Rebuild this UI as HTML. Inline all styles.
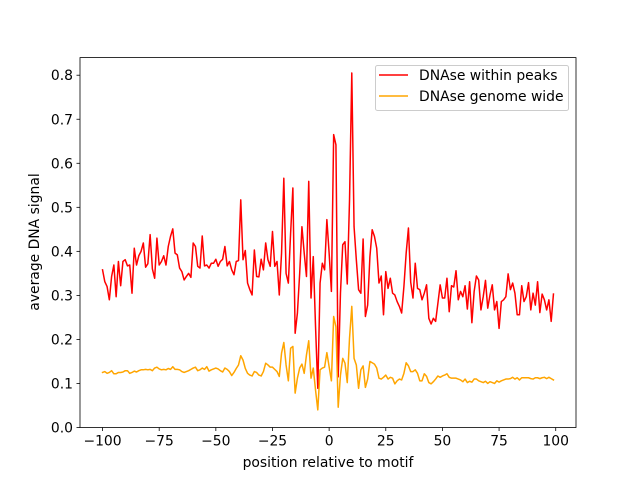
<!DOCTYPE html>
<html><head><meta charset="utf-8"><style>
html,body{margin:0;padding:0;background:#fff;}
svg{display:block;font-family:"DejaVu Sans","Liberation Sans",sans-serif;}
</style></head><body>
<svg id="chart" width="640" height="480" viewBox="0 0 640 480" xmlns="http://www.w3.org/2000/svg">
<rect x="0" y="0" width="640" height="480" fill="#fff"/>
<g id="series"></g>
<g id="axes"></g>
<g>
<rect x="375.5" y="65.5" width="193" height="45" rx="2" fill="#fff" fill-opacity="0.8" stroke="#ccc"/>
<line x1="379" y1="75" x2="408" y2="75" stroke="#ff0000" stroke-width="1.5"/>
<text x="419" y="80" font-size="13.9">DNAse within peaks</text>
<line x1="379" y1="96" x2="408" y2="96" stroke="#ffa500" stroke-width="1.5"/>
<text x="419" y="101" font-size="13.9">DNAse genome wide</text>
</g>
<text x="328" y="467" font-size="13.9" text-anchor="middle">position relative to motif</text>
<text x="0" y="0" font-size="13.9" text-anchor="middle" transform="translate(39,242) rotate(-90)">average DNA signal</text>
</svg>
<script>
const xStart = -100;
const peaks = [
.358,.331,.320,.290,.343,.369,.297,.377,.322,.377,
.381,.367,.369,.305,.407,.369,.390,.400,.419,.364,
.372,.438,.360,.339,.430,.369,.377,.390,.369,.411,
.434,.451,.396,.392,.362,.354,.335,.343,.350,.341,
.419,.411,.366,.362,.435,.367,.369,.362,.373,.373,
.382,.366,.377,.382,.411,.367,.377,.358,.347,.377,
.379,.517,.381,.402,.328,.313,
.301,.403,.343,.342,.382,.358,.419,.381,.366,.445,
.366,.377,.301,.396,.566,.350,.328,.441,.544,.214,
.260,.350,.456,.396,.343,.559,.294,.388,.229,.089,
.328,.373,.358,.472,.396,.309,.665,.642,.115,.305,
.415,.422,.326,.517,.805,.456,.381,.313,.305,.428,
.252,.278,.388,.449,.434,.407,.328,.344,.256,.354,
.316,.339,.305,.301,.286,.275,.260,.320,.396,.453,.330,
.294,.373,.316,.313,.290,.305,.324,.248,.235,.248,
.241,.282,.324,.294,.294,.339,.263,.322,.319,.356,
.290,.309,.297,.322,.269,.331,.238,.309,.344,.335,
.267,.297,.334,.271,.301,.324,.267,.286,.225,.286,
.290,.297,.349,.313,.328,.305,.256,.256,.322,.286,
.297,.329,.267,.305,.278,.331,.261,.303,.290,.267,
.290,.241,.303];
const genome = [
.125,.127,.123,.125,.129,.122,.122,.125,.125,.126,
.129,.129,.123,.125,.128,.126,.129,.131,.131,.132,
.131,.132,.129,.135,.137,.133,.131,.132,.131,.134,
.132,.138,.132,.132,.131,.127,.125,.127,.129,.132,
.135,.137,.129,.131,.135,.132,.138,.128,.131,.133,
.135,.133,.129,.126,.135,.132,.127,.118,.125,.134,
.142,.163,.153,.134,.123,.119,
.117,.127,.125,.119,.117,.127,.146,.142,.137,.137,
.132,.127,.116,.169,.193,.142,.106,.180,.184,.078,
.112,.135,.144,.123,.165,.197,.112,.135,.085,.040,
.131,.135,.137,.170,.138,.106,.252,.229,.046,.119,
.157,.146,.102,.203,.275,.157,.142,.089,.131,.140,
.091,.110,.150,.147,.144,.135,.112,.110,.114,.119,
.110,.114,.112,.099,.106,.110,.108,.123,.147,.140,.127,
.127,.131,.123,.106,.106,.122,.116,.102,.099,.104,
.110,.117,.114,.117,.119,.122,.114,.112,.112,.112,
.110,.108,.104,.110,.102,.105,.103,.110,.110,.106,
.104,.102,.105,.100,.104,.102,.100,.106,.103,.106,
.108,.110,.110,.111,.114,.110,.113,.108,.113,.113,
.113,.113,.111,.110,.113,.113,.111,.113,.114,.111,
.114,.111,.108];
const xTicks = [-100,-75,-50,-25,0,25,50,75,100];
const yTicks = [0.0,0.1,0.2,0.3,0.4,0.5,0.6,0.7,0.8];
const yTickLabels = ["0.0","0.1","0.2","0.3","0.4","0.5","0.6","0.7","0.8"];

const L=80,R=576,T=57.6,B=427.5;
const xMin=-109.95,xMax=108.95,yMin=0,yMax=0.84;
const X=v=>L+(v-xMin)/(xMax-xMin)*(R-L);
const Y=v=>B-(v-yMin)/(yMax-yMin)*(B-T);
const NS="http://www.w3.org/2000/svg";
const sg=document.getElementById('series'), ag=document.getElementById('axes');
function mk(tag,attrs,parent){const e=document.createElementNS(NS,tag);for(const k in attrs)e.setAttribute(k,attrs[k]);parent.appendChild(e);return e;}
function line(arr,color,name){
  const d=arr.map((v,i)=>(i?'L':'M')+X(xStart+i).toFixed(2)+' '+Y(v).toFixed(2)).join(' ');
  const p=mk('path',{d:d,fill:'none',stroke:color,'stroke-width':1.5,'stroke-linejoin':'round','stroke-linecap':'square'},sg);
  
  
}
line(peaks,'#ff0000','line-dnase-within-peaks');
line(genome,'#ffa500','line-dnase-genome-wide');
const frame=mk('rect',{x:L,y:T,width:R-L,height:B-T,fill:'none',stroke:'#000','stroke-width':0.8},ag);


xTicks.forEach(v=>{
  const x=X(v);
  mk('line',{x1:x,y1:B,x2:x,y2:B+3.5,stroke:'#000','stroke-width':0.8},ag);
  const t=mk('text',{x:x,y:B+18,'font-size':13.9,'text-anchor':'middle'},ag);
  t.textContent=(v<0?'\u2212':'')+Math.abs(v);
  
  
});
yTicks.forEach((v,i)=>{
  const y=Y(v);
  mk('line',{x1:L-3.5,y1:y,x2:L,y2:y,stroke:'#000','stroke-width':0.8},ag);
  const t=mk('text',{x:L-7,y:y+5,'font-size':13.9,'text-anchor':'end'},ag);
  t.textContent=yTickLabels[i];
  
  
});
</script>
</body></html>
